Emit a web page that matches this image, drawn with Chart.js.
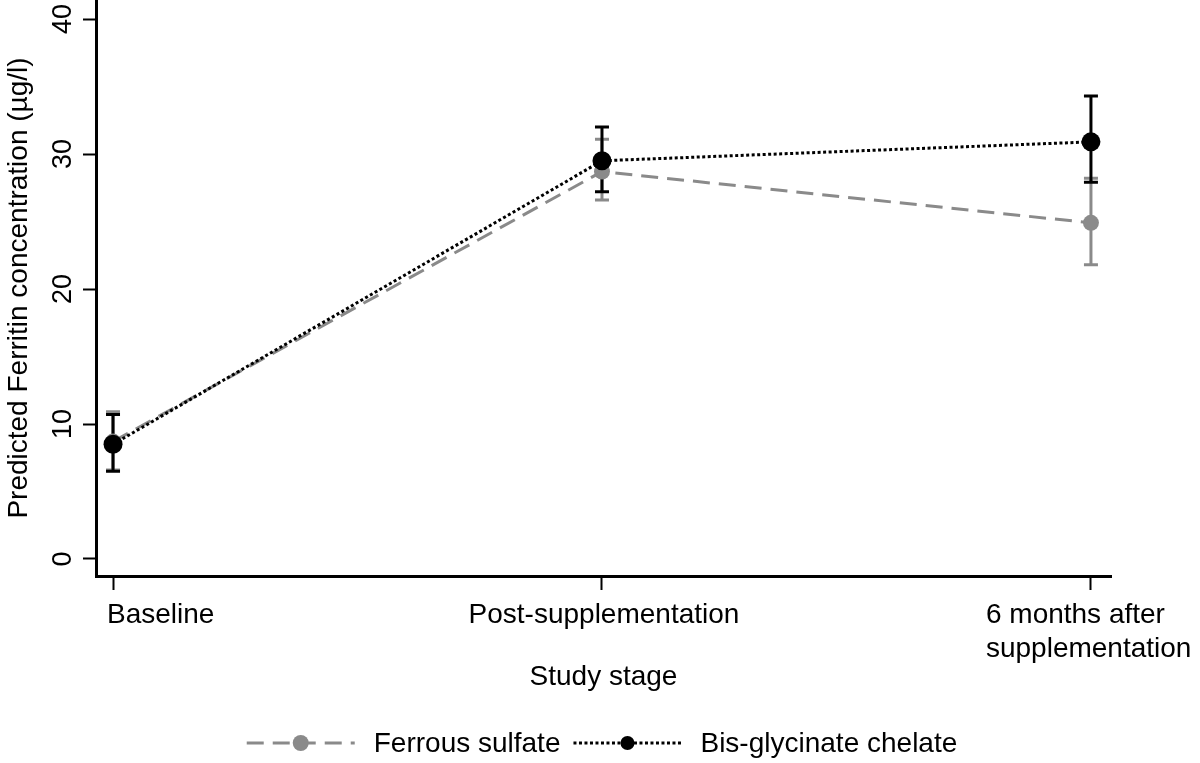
<!DOCTYPE html>
<html><head><meta charset="utf-8">
<script src="https://cdn.jsdelivr.net/npm/chart.js@4/dist/chart.umd.min.js"></script>
<style>html,body{margin:0;padding:0;background:#fff;} #wrap{width:1200px;height:763px;}</style>
</head><body><div id="wrap"><canvas id="c" width="1200" height="763"></canvas></div>
<script>
const categories = ['Baseline', 'Post-supplementation', ['6 months after', 'supplementation']];
const seriesNames = ['Ferrous sulfate', 'Bis-glycinate chelate'];
const ferrousMean = [8.7, 28.7, 24.9];
const ferrousLow = [6.6, 26.6, 21.8];
const ferrousHigh = [10.9, 31.1, 28.2];
const chelateMean = [8.5, 29.5, 30.9];
const chelateLow = [6.5, 27.2, 27.9];
const chelateHigh = [10.7, 32.0, 34.3];
const yTicks = [0, 10, 20, 30, 40];
const xTitle = 'Study stage';
const yTitle = 'Predicted Ferritin concentration (\u00b5g/l)';

const FONT = "'Liberation Sans', Arial, Helvetica, sans-serif";
const GRAY = '#8a8a8a';
const BLACK = '#000000';

const series = [
  {name: seriesNames[0], mean: ferrousMean, low: ferrousLow, high: ferrousHigh, color: GRAY, dash: [17, 9], r: 8, lr: 8},
  {name: seriesNames[1], mean: chelateMean, low: chelateLow, high: chelateHigh, color: BLACK, dash: [3, 2.5], r: 9.5, lr: 7}
];

const errorBars = {
  id: 'errorBars',
  beforeDatasetsDraw(chart) {
    const ctx = chart.ctx, xs = chart.scales.x, ys = chart.scales.y;
    ctx.save();
    series.forEach(s => {
      ctx.strokeStyle = s.color;
      ctx.lineWidth = 3;
      ctx.setLineDash([]);
      s.mean.forEach((m, i) => {
        const x = xs.getPixelForValue(i);
        const yl = ys.getPixelForValue(s.low[i]);
        const yh = ys.getPixelForValue(s.high[i]);
        ctx.beginPath();
        ctx.moveTo(x, yl); ctx.lineTo(x, yh);
        ctx.moveTo(x - 7, yl); ctx.lineTo(x + 7, yl);
        ctx.moveTo(x - 7, yh); ctx.lineTo(x + 7, yh);
        ctx.stroke();
      });
    });
    ctx.restore();
  }
};

const customLabels = {
  id: 'customLabels',
  afterDraw(chart) {
    const ctx = chart.ctx, xs = chart.scales.x;
    ctx.save();
    ctx.fillStyle = '#000';
    ctx.font = '28px ' + FONT;
    ctx.textBaseline = 'alphabetic';
    const offsets = [{align: 'left', dx: -6}, {align: 'center', dx: 2}, {align: 'left', dx: -105}];
    categories.forEach((c, i) => {
      const lines = Array.isArray(c) ? c : [c];
      const x = xs.getPixelForValue(i) + offsets[i].dx;
      ctx.textAlign = offsets[i].align;
      lines.forEach((t, k) => ctx.fillText(t, x, 623 + k * 34));
    });
    const ly = 743;
    const sampleW = 108, gapT = 19, gapE = 13;
    let total = 0;
    series.forEach((s, k) => { total += sampleW + gapT + ctx.measureText(s.name).width; if (k) total += gapE; });
    let x = 602 - total / 2;
    series.forEach((s) => {
      ctx.strokeStyle = s.color; ctx.lineWidth = 3; ctx.setLineDash(s.dash);
      ctx.beginPath(); ctx.moveTo(x, ly); ctx.lineTo(x + sampleW, ly); ctx.stroke();
      ctx.setLineDash([]);
      ctx.fillStyle = s.color;
      ctx.beginPath(); ctx.arc(x + sampleW / 2, ly, s.lr, 0, Math.PI * 2); ctx.fill();
      x += sampleW + gapT;
      ctx.fillStyle = '#000'; ctx.textAlign = 'left'; ctx.textBaseline = 'middle';
      ctx.fillText(s.name, x, ly + 1);
      x += ctx.measureText(s.name).width + gapE;
    });
    ctx.restore();
  }
};

new Chart(document.getElementById('c'), {
  type: 'line',
  data: {
    datasets: series.map((s, k) => ({
      label: s.name,
      data: categories.map((c, i) => ({x: i, y: s.mean[i]})),
      borderColor: s.color,
      backgroundColor: s.color,
      pointBackgroundColor: s.color,
      pointBorderColor: s.color,
      pointBorderWidth: 0,
      pointRadius: s.r,
      borderWidth: 3,
      borderDash: s.dash,
      tension: 0,
      fill: false,
      clip: false,
      order: k === 0 ? 1 : 0
    }))
  },
  options: {
    responsive: false,
    animation: false,
    devicePixelRatio: 1,
    layout: {autoPadding: false, padding: {left: 0, right: 89, top: 0, bottom: 69}},
    plugins: {legend: {display: false}, tooltip: {enabled: false}},
    events: [],
    scales: {
      x: {
        type: 'linear',
        min: -0.0348,
        max: 2.041,
        afterBuildTicks: s => { s.ticks = categories.map((c, i) => ({value: i})); },
        afterFit: s => { s.height = 118; s.paddingLeft = 0; s.paddingRight = 0; },
        grid: {display: true, drawOnChartArea: false, drawTicks: true, tickLength: 14, tickWidth: 2, tickColor: '#000'},
        border: {display: true, color: '#000', width: 3},
        ticks: {display: false},
        title: {display: true, text: xTitle, color: '#000', font: {family: FONT, size: 28}, padding: 0}
      },
      y: {
        type: 'linear',
        min: -1.26,
        max: 41.41,
        afterBuildTicks: s => { s.ticks = yTicks.map(v => ({value: v})); },
        afterFit: s => { s.width = 96; s.paddingTop = 0; s.paddingBottom = 0; },
        grid: {display: true, drawOnChartArea: false, drawTicks: true, tickLength: 13, tickWidth: 2, tickColor: '#000'},
        border: {display: true, color: '#000', width: 3},
        ticks: {color: '#000', font: {family: FONT, size: 27}, minRotation: 90, maxRotation: 90, crossAlign: 'center', padding: 4},
        title: {display: true, text: yTitle, color: '#000', font: {family: FONT, size: 28}, padding: {top: 2, bottom: 0}}
      }
    }
  },
  plugins: [errorBars, customLabels]
});
</script></body></html>
